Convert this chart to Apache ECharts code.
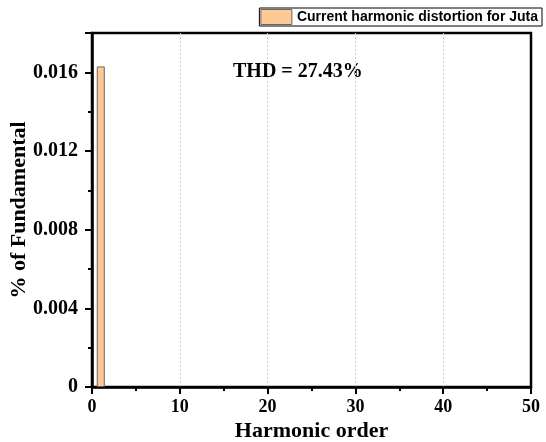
<!DOCTYPE html>
<html>
<head>
<meta charset="utf-8">
<script src="https://cdn.jsdelivr.net/npm/echarts@6/dist/echarts.min.js"></script>
<style>
  html, body { margin: 0; padding: 0; background: #fff; }
  #chart { width: 546px; height: 442px; }
</style>
</head>
<body>
<div id="chart"></div>
<script>
// Harmonic spectrum of the load current
const harmonicOrders = [1];
const distortion = [0.0163];
const seriesName = 'Current harmonic distortion for Juta';
const thdText = 'THD = 27.43%';
const xTicks = { min: 0, max: 50, interval: 10 };
const yTicks = { min: 0, max: 0.018, interval: 0.004 };

const serif = '"Liberation Serif", "Times New Roman", serif';
const chart = echarts.init(document.getElementById('chart'), null, { renderer: 'canvas' });

chart.setOption({
  animation: false,
  backgroundColor: '#fff',
  grid: {
    left: 92, right: 15, top: 33, bottom: 55,
    containLabel: false, outerBoundsMode: 'none',
    show: true, borderColor: '#000', borderWidth: 2.5, backgroundColor: 'transparent'
  },
  legend: {
    data: [seriesName],
    right: 4, top: 8,
    orient: 'horizontal',
    borderColor: '#000', borderWidth: 1, borderRadius: 0,
    padding: [1, 4, 1, 1],
    itemWidth: 31, itemHeight: 15,
    icon: 'rect',
    itemStyle: { color: '#ffc995', borderColor: '#666', borderWidth: 1 },
    textStyle: { fontFamily: '"Liberation Sans", Arial, sans-serif', fontWeight: 'bold', fontSize: 14, color: '#000' }
  },
  xAxis: {
    type: 'value',
    min: xTicks.min, max: xTicks.max, interval: xTicks.interval,
    name: 'Harmonic order', nameLocation: 'middle', nameGap: 33, nameMoveOverlap: false,
    nameTextStyle: { fontFamily: serif, fontWeight: 'bold', fontSize: 22, color: '#000' },
    axisLine: { show: true, lineStyle: { color: '#000', width: 2.5 } },
    axisTick: { show: true, inside: false, length: 7, lineStyle: { color: '#000', width: 2 } },
    minorTick: { show: true, splitNumber: 2, length: 4, lineStyle: { color: '#000', width: 2 } },
    axisLabel: { margin: 11, fontFamily: serif, fontWeight: 'bold', fontSize: 18, color: '#000' },
    splitLine: { show: true, showMinLine: false, showMaxLine: false, lineStyle: { color: '#d0d0d0', type: [2, 2], width: 1 } }
  },
  yAxis: {
    type: 'value',
    min: yTicks.min, max: yTicks.max, interval: yTicks.interval,
    name: '% of Fundamental', nameLocation: 'middle', nameGap: 62, nameRotate: 90, nameMoveOverlap: false,
    nameTextStyle: { fontFamily: serif, fontWeight: 'bold', fontSize: 22, color: '#000' },
    axisLine: { show: true, lineStyle: { color: '#000', width: 2.5 } },
    axisTick: { show: true, inside: false, length: 7, lineStyle: { color: '#000', width: 2 } },
    minorTick: { show: true, splitNumber: 2, length: 4, lineStyle: { color: '#000', width: 2 } },
    axisLabel: {
      margin: 14, fontFamily: serif, fontWeight: 'bold', fontSize: 20, color: '#000',
      showMaxLabel: false,
      formatter: v => (v === 0 ? '0' : v.toFixed(3))
    },
    splitLine: { show: false }
  },
  graphic: [{
    type: 'text', left: 233, top: 62,
    style: { text: thdText, font: 'bold 20px ' + serif, fill: '#000' }
  }],
  series: [{
    name: seriesName,
    type: 'bar',
    barWidth: 8,
    data: harmonicOrders.map((h, i) => [h, distortion[i]]),
    itemStyle: { color: '#ffc995', borderColor: '#666', borderWidth: 1 }
  }]
});
</script>
</body>
</html>
